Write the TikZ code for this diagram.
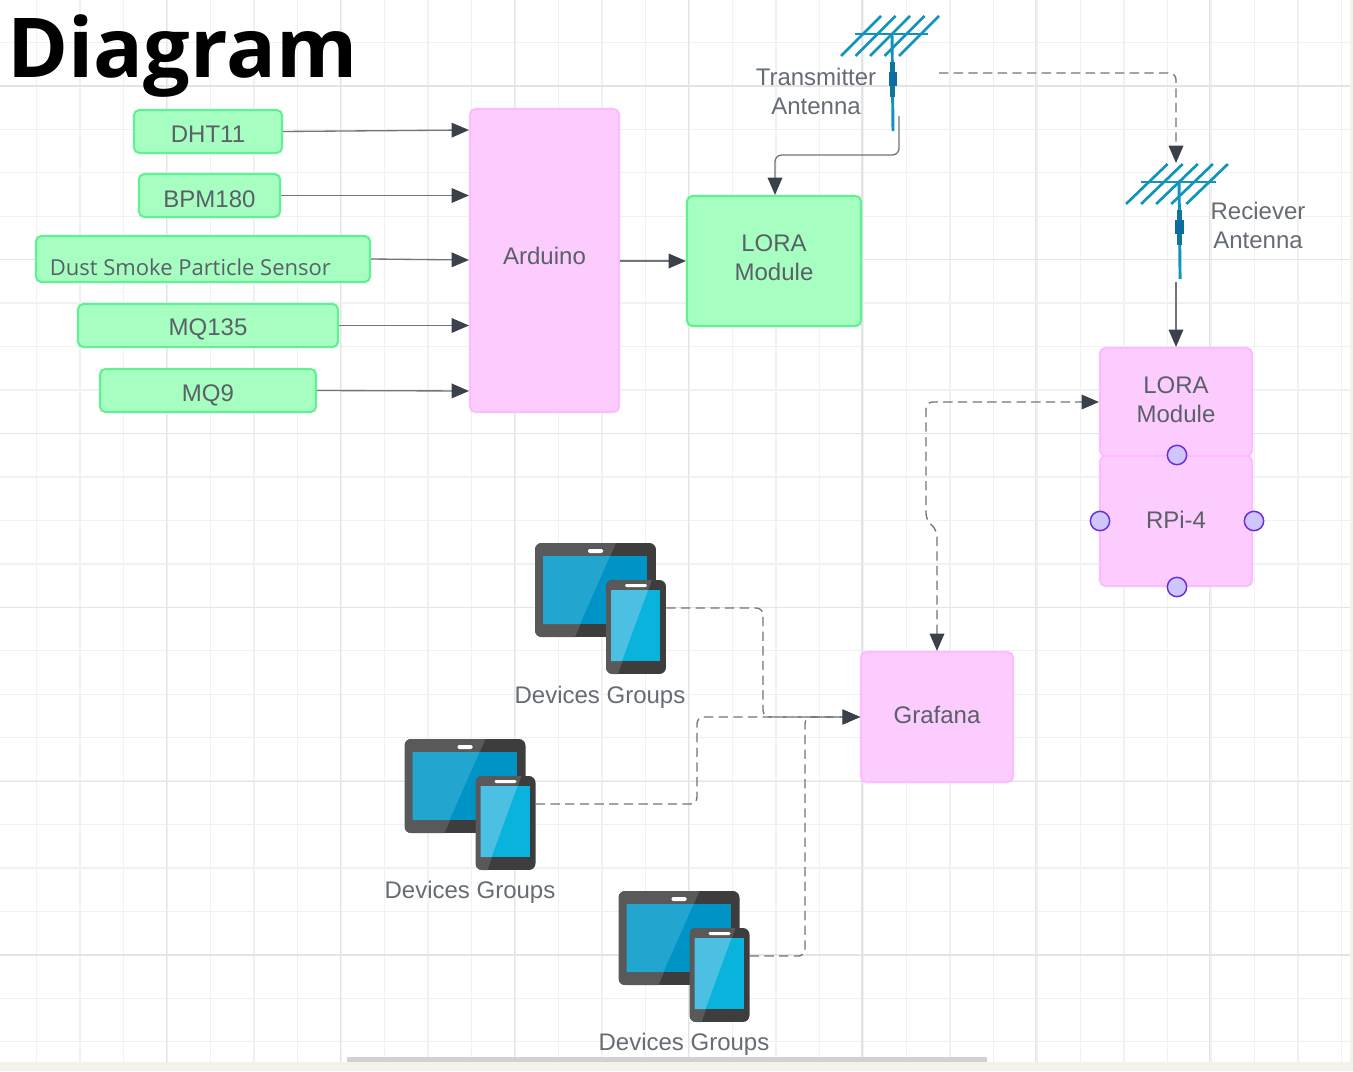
\documentclass[tikz,border=0pt]{standalone}
\usepackage{fontspec}
\setmainfont{Liberation Sans}
\newfontfamily\dustfont{Open Sans}
\usetikzlibrary{arrows.meta}
\definecolor{gridminor}{HTML}{F1F1F1}
\definecolor{gridmajor}{HTML}{E4E4E4}
\definecolor{greenfill}{HTML}{A6FFC0}
\definecolor{greenline}{HTML}{62F094}
\definecolor{pinkfill}{HTML}{FDCCFF}
\definecolor{pinkline}{HTML}{FBBDFF}
\definecolor{labelgrey}{HTML}{666C75}
\definecolor{boxtext}{HTML}{5A6068}
\definecolor{wiregrey}{HTML}{6F757D}
\definecolor{tipgrey}{HTML}{3A414A}
\definecolor{antblue}{HTML}{1293BC}
\definecolor{antdark}{HTML}{0B6E9E}
\definecolor{portfill}{HTML}{CFC6FB}
\definecolor{portline}{HTML}{6A2BE0}
\definecolor{bandcream}{HTML}{F5F2E9}
\definecolor{tabletscreen}{HTML}{0094C6}
\definecolor{tabletshine}{HTML}{22A5CF}
\definecolor{phonescreen}{HTML}{09B3DC}
\definecolor{phoneshine}{HTML}{4BC0E2}
\def\pxu{.75pt}
\newcommand{\nudged}[2]{\vphantom{#2}\smash{\raisebox{#1}{#2}}}
\tikzset{
  box/.style={rounded corners=4pt,line width=1.6pt,text=boxtext,align=center,inner sep=0pt,
    font=\fontsize{18}{21.75}\selectfont},
  greenbox/.style={box,draw=greenline,fill=greenfill},
  pinkbox/.style={box,draw=pinkline,fill=pinkfill},
  lbl/.style={text=labelgrey,align=center,inner sep=0pt,font=\fontsize{18}{21.75}\selectfont},
  wire/.style={draw=wiregrey,line width=1pt,rounded corners=5pt,-{Triangle[length=13pt,width=11pt,color=tipgrey]}},
  dashwire/.style={wire,dash pattern=on 7pt off 4pt},
  port/.style={circle,draw=portline,fill=portfill,line width=1.1pt,minimum size=14.5pt,inner sep=0pt},
  antenna/.pic={
    \foreach \i in {0,...,4}
      \draw[antblue,line width=2pt] (\i*14.5,22) -- (40+\i*14.5,-18);
    \draw[antblue,line width=2pt] (14,0) -- (87,0);
    \draw[antblue,line width=2.2pt] (51,0) -- (52,97);
    \draw[antblue!80!black,line width=3.4pt] (51.5,28) -- (51.5,63);
    \fill[antdark] (47.5,38) rectangle (55.5,52);
  },
  devices/.pic={
    \begin{scope}
      \clip[rounded corners=5pt] (0,0) rectangle (121,94);
      \fill[black!76] (0,0) rectangle (121,94);
      \fill[black!65] (0,0) -- (81,0) -- (40,94) -- (0,94) -- cycle;
    \end{scope}
    \fill[white,rounded corners=1pt] (53,6) rectangle (68,10);
    \fill[tabletscreen] (8,13) rectangle (112,81);
    \fill[tabletshine] (8,13) -- (75,13) -- (45,81) -- (8,81) -- cycle;
    \begin{scope}
      \clip[rounded corners=5pt] (71,37) rectangle (131,131);
      \fill[black!76] (71,37) rectangle (131,131);
      \fill[black!65] (71,37) -- (117,37) -- (83,131) -- (71,131) -- cycle;
    \end{scope}
    \fill[white,rounded corners=1pt] (90,41) rectangle (112,44);
    \fill[phonescreen] (76,47) rectangle (125,118);
    \fill[phoneshine] (76,47) -- (113,47) -- (87,118) -- (76,118) -- cycle;
    \node[minimum width=60*\pxu,minimum height=94*\pxu,inner sep=0pt] (-phone) at (101,84) {};
  }
}
\begin{document}
\begin{tikzpicture}[x=.75pt,y=-.75pt]
  \useasboundingbox (0,0) rectangle (1353,1071);
  \fill[white] (0,0) rectangle (1353,1071);

  \foreach \k in {0,...,31}
    \draw[gridminor,line width=1pt] (-7+\k*43.5,0) -- (-7+\k*43.5,1062);
  \foreach \k in {0,...,24}
    \draw[gridminor,line width=1pt] (0,-1+\k*43.45) -- (1350,-1+\k*43.45);
  \foreach \k in {1,...,7}
    \draw[gridmajor,line width=.9pt] (-7+\k*173.8,0) -- (-7+\k*173.8,1062);
  \foreach \k in {0,...,5}
    \draw[gridmajor,line width=.9pt] (0,86+\k*173.8) -- (1350,86+\k*173.8);
  \fill[black!18] (347,1057) rectangle (987,1063);
  \fill[bandcream] (0,1062) rectangle (1353,1071);
  \fill[bandcream] (1350,0) rectangle (1353,1071);

  \node[anchor=base west,inner sep=0pt,font=\fontsize{62}{70}\dustfont\bfseries] (title) at (7,77) {Diagram};

  \node[greenbox,minimum width=148*\pxu,minimum height=43*\pxu] (dht) at (208,131.5) {\nudged{-2.25pt}{DHT11}};
  \node[greenbox,minimum width=141*\pxu,minimum height=43*\pxu] (bpm) at (209.5,195.5) {\nudged{-3pt}{BPM180}};
  \node[greenbox,minimum width=334*\pxu,minimum height=46*\pxu,font=\fontsize{16.5}{20}\dustfont] (dust) at (203,259) {\hspace{-19pt}\nudged{-6pt}{Dust Smoke Particle Sensor}};
  \node[greenbox,minimum width=260*\pxu,minimum height=43*\pxu] (mq135) at (208,325.5) {\nudged{-3pt}{MQ135}};
  \node[greenbox,minimum width=216*\pxu,minimum height=43*\pxu] (mq9) at (208,390.5) {\nudged{-3.75pt}{MQ9}};
  \node[pinkbox,minimum width=149*\pxu,minimum height=303*\pxu] (arduino) at (544.5,260.5) {\nudged{3.75pt}{Arduino}};
  \node[greenbox,minimum width=174*\pxu,minimum height=130*\pxu] (lorat) at (774,261) {\nudged{2.25pt}{LORA}\\\nudged{2.25pt}{Module}};
  \node[pinkbox,minimum width=152*\pxu,minimum height=108*\pxu] (lorar) at (1176,402) {\nudged{1.5pt}{LORA}\\\nudged{1.5pt}{Module}};
  \node[pinkbox,minimum width=152*\pxu,minimum height=130*\pxu] (rpi) at (1176,521) {\nudged{.75pt}{RPi-4}};
  \node[pinkbox,minimum width=152*\pxu,minimum height=130*\pxu] (grafana) at (937,717) {\nudged{1.5pt}{Grafana}};

  \node[port] (pa) at (1177,455) {};
  \node[port] (pb) at (1100,521) {};
  \node[port] (pc) at (1254,521) {};
  \node[port] (pd) at (1177,587) {};

  \pic at (841,34) {antenna};
  \pic[xscale=1.04] at (1126,182) {antenna};
  \node[lbl] (txlbl) at (816,91) {Transmitter\\Antenna};
  \node[lbl] (rxlbl) at (1258,225) {Reciever\\Antenna};
  \coordinate (txout) at (899,116);
  \coordinate (txdash) at (939,73);
  \coordinate (rxin) at (1176,163);
  \coordinate (rxout) at (1176,282);

  \pic (dev1) at (535,543) {devices};
  \pic (dev2) at (404.5,739) {devices};
  \pic (dev3) at (618.5,891) {devices};
  \node[lbl] (devlbl1) at (600,697) {Devices Groups};
  \node[lbl] (devlbl2) at (470,892) {Devices Groups};
  \node[lbl] (devlbl3) at (684,1044) {Devices Groups};

  \draw[wire] (dht.east) -- (arduino.west |- 0,130);
  \draw[wire] (bpm.east) -- (bpm.east -| arduino.west);
  \draw[wire] (dust.east) -- (arduino.west |- 0,260);
  \draw[wire] (mq135.east) -- (mq135.east -| arduino.west);
  \draw[wire] (mq9.east) -- (arduino.west |- 0,391);
  \draw[wire] (arduino.east |- lorat.west) -- (lorat.west);
  \draw[wire] (txout) -- (899,155) -- (775,155) -- (lorat.north -| 775,0);
  \draw[dashwire] (txdash) -- (1176,73) -- (rxin);
  \draw[wire] (rxout) -- (lorar.north);
  \draw[dashwire,{Triangle[length=13pt,width=11pt,color=tipgrey]}-{Triangle[length=13pt,width=11pt,color=tipgrey]}] (grafana.north) -- (937,530) -- (926,520) -- (926,402) -- (lorar.west);
  \draw[dashwire] (dev1-phone.east |- 0,608) -- (763,608) -- (763,717) -- (grafana.west);
  \draw[dashwire] (dev2-phone.east |- 0,804) -- (697,804) -- (697,717) -- (grafana.west);
  \draw[dashwire] (dev3-phone.east |- 0,956) -- (805,956) -- (805,717) -- (grafana.west);
\end{tikzpicture}
\end{document}
